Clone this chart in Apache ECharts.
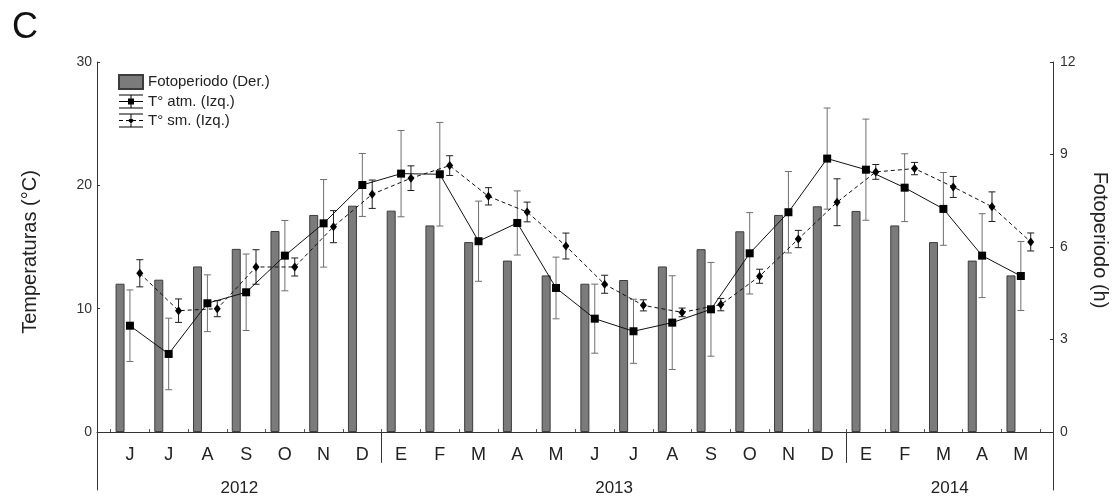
<!DOCTYPE html>
<html>
<head>
<meta charset="utf-8">
<script src="https://cdn.jsdelivr.net/npm/echarts@6/dist/echarts.min.js"></script>
<style>
  html, body { margin: 0; padding: 0; background: #fff; }
  #chart { width: 1115px; height: 499px; }
</style>
</head>
<body>
<div id="chart"></div>
<script>
// Monthly series, June 2012 – May 2014
const months = ['J','J','A','S','O','N','D','E','F','M','A','M','J','J','A','S','O','N','D','E','F','M','A','M'];
const years = ['2012', '2013', '2014'];
const monthsPerYear = [7, 12, 5];

// Photoperiod (h), right axis
const photoperiod = [4.81, 4.94, 5.37, 5.94, 6.52, 7.04, 7.34, 7.18, 6.70, 6.16, 5.56, 5.08,
                     4.81, 4.93, 5.37, 5.93, 6.51, 7.04, 7.32, 7.17, 6.70, 6.16, 5.56, 5.08];
// Air temperature (°C), left axis, with error
const tAtm = [8.62, 6.33, 10.44, 11.33, 14.30, 16.92, 20.03, 20.95, 20.90, 15.47, 16.95, 11.68,
              9.19, 8.17, 8.87, 9.95, 14.49, 17.82, 22.17, 21.27, 19.81, 18.09, 14.30, 12.65];
const tAtmErr = [2.9, 2.9, 2.3, 3.1, 2.85, 3.55, 2.55, 3.5, 4.2, 3.25, 2.6, 2.5,
                 2.8, 2.6, 3.8, 3.8, 3.3, 3.3, 4.1, 4.1, 2.75, 2.95, 3.4, 2.8];
// Sub-surface temperature (°C), left axis, with error
const tSm = [12.87, 9.84, 10.00, 13.38, 13.38, 16.65, 19.28, 20.58, 21.60, 19.11, 17.84, 15.08,
             11.98, 10.27, 9.70, 10.33, 12.63, 15.65, 18.63, 21.09, 21.36, 19.87, 18.27, 15.41];
const tSmErr = [1.1, 0.95, 0.65, 1.4, 0.73, 1.3, 1.15, 1.0, 0.8, 0.7, 0.8, 1.05,
                0.73, 0.45, 0.35, 0.5, 0.57, 0.7, 1.9, 0.6, 0.5, 0.85, 1.2, 0.73];

const leftTicks = [0, 10, 20, 30];
const rightTicks = [0, 3, 6, 9, 12];

// layout helpers (in category-index units)
const X_MIN = -0.85, X_MAX = 23.83;
const BAR_SHIFT = -0.255, SM_SHIFT = 0.255;
const LEFT_MIN = -4.7, LEFT_MAX = 30, RIGHT_MAX = 12;
const RIGHT_MIN = LEFT_MIN * RIGHT_MAX / LEFT_MAX;
const GRID_TOP = 62, GRID_BOTTOM = 9, CHART_H = 499;
// the month axis sits on the zero line, above the grid's lower edge
const zeroOffset = -(CHART_H - GRID_TOP - GRID_BOTTOM) * (-LEFT_MIN) / (LEFT_MAX - LEFT_MIN);
const FONT = "'Liberation Sans', Arial, sans-serif";
const NARROW = "'Liberation Sans Narrow', 'Liberation Sans', Arial, sans-serif";

const idx = months.map((_, i) => i);
const boundaries = [...idx.map(i => i - 0.5), months.length - 0.5];

// year separators and year label centres
const yearEdges = [];
let acc = 0;
monthsPerYear.forEach(n => { acc += n; yearEdges.push(acc - 0.5); });
const separators = yearEdges.slice(0, -1);
const yearStarts = [X_MIN, ...separators];
const yearEnds = [...separators, X_MAX];
const yearCenters = years.map((_, k) => (yearStarts[k] + yearEnds[k]) / 2);

function errorRender(color, capHalf) {
  return function (params, api) {
    const x = api.value(0);
    const lo = api.coord([x, api.value(1)]);
    const hi = api.coord([x, api.value(2)]);
    const style = { stroke: color, lineWidth: 1 };
    return {
      type: 'group',
      children: [
        { type: 'line', shape: { x1: lo[0], y1: lo[1], x2: hi[0], y2: hi[1] }, style },
        { type: 'line', shape: { x1: lo[0] - capHalf, y1: lo[1], x2: lo[0] + capHalf, y2: lo[1] }, style },
        { type: 'line', shape: { x1: hi[0] - capHalf, y1: hi[1], x2: hi[0] + capHalf, y2: hi[1] }, style }
      ]
    };
  };
}

const atmIcon = 'path://M0,0H24V1H0Z M0,6.5H24V7.5H0Z M0,13H24V14H0Z M11.5,0H12.5V14H11.5Z M9,4H15V10H9Z';
const smIcon = 'path://M0,0H24V1H0Z M0,6.5H4V7.5H0Z M7,6.5H10V7.5H7Z M14,6.5H17V7.5H14Z M20,6.5H24V7.5H20Z M11.5,0H12.5V14H11.5Z M12,4L15,7L12,10L9,7Z M0,13H24V14H0Z';

const chart = echarts.init(document.getElementById('chart'), null, { renderer: 'canvas' });

chart.setOption({
  animation: false,
  backgroundColor: '#ffffff',
  textStyle: { fontFamily: FONT },
  title: {
    text: 'C', left: 7, top: 5,
    textStyle: { fontSize: 36, fontWeight: 'normal', color: '#111', fontFamily: FONT }
  },
  legend: {
    orient: 'vertical', left: 118, top: 74, padding: 0,
    itemWidth: 24, itemHeight: 14, itemGap: 4,
    textStyle: { fontSize: 15, color: '#222', fontFamily: FONT },
    data: [
      { name: 'Fotoperiodo (Der.)', icon: 'rect' },
      { name: 'T° atm. (Izq.)', icon: atmIcon },
      { name: 'T° sm. (Izq.)', icon: smIcon }
    ]
  },
  grid: { left: 97, right: 62, top: GRID_TOP, bottom: GRID_BOTTOM, containLabel: false, outerBoundsMode: 'none' },
  xAxis: [
    {
      type: 'value', min: X_MIN, max: X_MAX, position: 'bottom', offset: zeroOffset,
      splitLine: { show: false },
      axisLine: { show: true, onZero: false, lineStyle: { color: '#333', width: 1 } },
      axisTick: { show: true, inside: true, length: 3, customValues: boundaries, lineStyle: { color: '#555' } },
      axisLabel: {
        show: true, customValues: idx, margin: 14,
        formatter: v => months[Math.round(v)],
        fontSize: 18, color: '#222', fontFamily: NARROW
      }
    },
    {
      type: 'value', min: X_MIN, max: X_MAX, position: 'bottom',
      splitLine: { show: false },
      axisLine: { show: false, onZero: false },
      axisTick: { show: false },
      axisLabel: {
        show: true, inside: true, margin: 2, verticalAlign: 'middle',
        customValues: yearCenters,
        formatter: v => years[yearCenters.findIndex(c => Math.abs(c - v) < 1e-6)],
        fontSize: 17, color: '#222', fontFamily: NARROW
      }
    }
  ],
  yAxis: [
    {
      type: 'value', position: 'left', min: LEFT_MIN, max: LEFT_MAX,
      splitLine: { show: false },
      axisLine: { show: true, onZero: false, lineStyle: { color: '#333', width: 1 } },
      axisTick: { show: true, inside: true, length: 3, customValues: leftTicks, lineStyle: { color: '#333' } },
      axisLabel: { customValues: leftTicks, margin: 5, fontSize: 14, color: '#333', fontFamily: FONT }
    },
    {
      type: 'value', position: 'right', min: RIGHT_MIN, max: RIGHT_MAX,
      splitLine: { show: false },
      axisLine: { show: true, onZero: false, lineStyle: { color: '#333', width: 1 } },
      axisTick: { show: true, inside: true, length: 3, customValues: rightTicks, lineStyle: { color: '#333' } },
      axisLabel: { customValues: rightTicks, margin: 7, fontSize: 14, color: '#333', fontFamily: FONT }
    }
  ],
  graphic: [
    {
      type: 'text', x: 30, y: 252, rotation: Math.PI / 2,
      style: { text: 'Temperaturas (°C)', align: 'center', verticalAlign: 'middle', font: "20px 'Liberation Sans', Arial, sans-serif", fill: '#222' }
    },
    {
      type: 'text', x: 1100, y: 240, rotation: -Math.PI / 2,
      style: { text: 'Fotoperiodo (h)', align: 'center', verticalAlign: 'middle', font: "20px 'Liberation Sans', Arial, sans-serif", fill: '#222' }
    }
  ],
  series: [
    {
      name: 'Fotoperiodo (Der.)', type: 'bar', xAxisIndex: 0, yAxisIndex: 1,
      barWidth: 9, z: 1,
      itemStyle: { color: '#7b7b7b', borderColor: '#3c3c3c', borderWidth: 1 },
      data: photoperiod.map((p, i) => [i + BAR_SHIFT, p]),
      markLine: {
        silent: true, symbol: 'none', label: { show: false },
        lineStyle: { color: '#333', width: 1, type: 'solid' },
        data: separators.map(s => [{ coord: [s, 0] }, { coord: [s, -1.0] }])
      }
    },
    {
      name: 'atmErr', type: 'custom', xAxisIndex: 0, yAxisIndex: 0, z: 2,
      renderItem: errorRender('#6f6f6f', 3.5),
      encode: { x: 0, y: [1, 2] },
      data: tAtm.map((t, i) => [i, t - tAtmErr[i], t + tAtmErr[i]])
    },
    {
      name: 'smErr', type: 'custom', xAxisIndex: 0, yAxisIndex: 0, z: 2,
      renderItem: errorRender('#1e1e1e', 3.5),
      encode: { x: 0, y: [1, 2] },
      data: tSm.map((t, i) => [i + SM_SHIFT, t - tSmErr[i], t + tSmErr[i]])
    },
    {
      name: 'T° atm. (Izq.)', type: 'line', xAxisIndex: 0, yAxisIndex: 0, z: 3,
      symbol: 'rect', symbolSize: 8,
      itemStyle: { color: '#000' },
      lineStyle: { color: '#111', width: 1 },
      data: tAtm.map((t, i) => [i, t])
    },
    {
      name: 'T° sm. (Izq.)', type: 'line', xAxisIndex: 0, yAxisIndex: 0, z: 3,
      symbol: 'diamond', symbolSize: [7, 9],
      itemStyle: { color: '#000' },
      lineStyle: { color: '#111', width: 1, type: [4, 3] },
      data: tSm.map((t, i) => [i + SM_SHIFT, t])
    }
  ]
});
</script>
</body>
</html>
